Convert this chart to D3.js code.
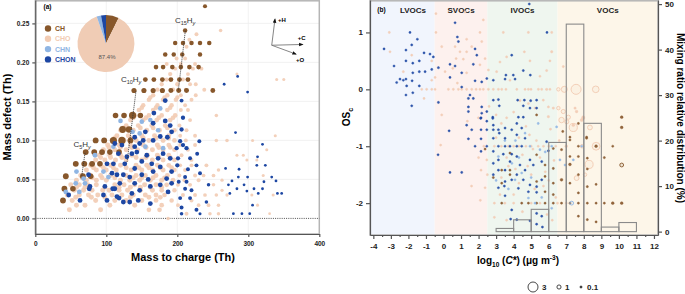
<!DOCTYPE html>
<html>
<head>
<meta charset="utf-8">
<script src="https://cdn.jsdelivr.net/npm/d3@7"></script>
<style>
  body { margin: 0; background: #fff; }
  text { font-family: "Liberation Sans", Arial, sans-serif; }
</style>
</head>
<body>
<div id="chart"></div>
<script>
// ---- Panel (a): mass defect vs mass to charge -------------------------------------------------
// [m/z, mass defect, abundance]
const chPoints = [
  [239,0.272,1.1],
  [197,0.225,1.3],[208,0.225,1.3],[220,0.225,1.3],[232,0.225,1.3],[245,0.225,1.3],[211,0.241,1.3],
  [183,0.210,1.3],[195,0.210,1.3],[207,0.210,1.3],[232,0.210,1.3],
  [170,0.194,1.4],[180,0.194,1.4],[193,0.194,1.4],[205,0.194,1.4],[217,0.194,1.4],[230,0.194,1.4],
  [155,0.178,1.5],[167,0.178,1.5],[179,0.178,1.5],[191,0.178,1.5],[203,0.178,1.5],[215,0.178,1.5],
  [139,0.164,1.7],[153,0.164,1.7],[166,0.164,1.7],[179,0.164,1.7],[191,0.164,1.6],[202,0.164,1.6],[213,0.164,1.6],[250,0.164,1.5],
  [113,0.132,2.0],[125,0.132,2.0],[137,0.132,3.3],[148,0.132,2.0],
  [123,0.114,3.0],[132,0.114,2.7],
  [85,0.100,2.2],[97,0.100,2.2],[110,0.100,3.2],[122,0.100,3.4],[134,0.100,2.2],
  [71,0.085,2.2],[83,0.085,2.2],[94,0.085,2.2],[105,0.085,2.0],[118,0.085,2.0],
  [57,0.070,2.2],[69,0.070,2.2],[80,0.070,2.2],[91,0.070,2.0],
  [43,0.054,2.2],[67,0.054,2.2],[78,0.054,2.0],
  [41,0.038,2.2],[53,0.038,2.0],
  [39,0.023,2.2]
];
const choPoints = [
  [187,0.000,0.8],
  [213,0.006,1.0],[246,0.006,0.8],[258,0.006,0.8],[330,0.006,0.5],
  [48,0.011,1.6],[92,0.011,1.6],[160,0.011,1.4],[175,0.011,1.4],
  [58,0.017,1.6],[70,0.017,1.6],[105,0.017,1.6],[140,0.017,1.6],[178,0.017,1.4],[201,0.017,1.0],[230,0.017,0.9],[244,0.017,0.9],[258,0.017,0.8],[313,0.017,0.6],
  [52,0.023,1.6],[85,0.023,1.6],[112,0.023,1.6],[128,0.023,1.6],[150,0.023,1.6],[170,0.023,1.5],[192,0.023,1.3],[220,0.023,1.0],
  [57,0.027,1.6],[79,0.027,1.6],[98,0.027,1.6],[116,0.027,1.6],[134,0.027,1.6],[160,0.027,1.6],[176,0.027,1.5],
  [45,0.030,1.6],[62,0.030,1.6],[75,0.030,1.6],[88,0.030,1.6],[108,0.030,1.6],[122,0.030,1.6],[138,0.030,1.6],[155,0.030,1.6],[170,0.030,1.5],[182,0.030,1.4],[208,0.030,1.0],[225,0.030,1.0],[239,0.030,0.9],[255,0.030,0.8],[270,0.030,0.7],[305,0.030,0.6],[335,0.030,0.6],
  [55,0.036,1.6],[68,0.036,1.6],[80,0.036,1.6],[95,0.036,1.6],[104,0.036,1.6],[118,0.036,1.6],[130,0.036,1.6],[148,0.036,1.6],[165,0.036,1.6],[178,0.036,1.5],[196,0.036,1.3],[263,0.036,0.7],
  [58,0.040,1.6],[70,0.040,1.6],[98,0.040,1.6],[118,0.040,1.6],[134,0.040,1.6],[148,0.040,1.6],[162,0.040,1.6],[178,0.040,1.5],
  [50,0.043,1.6],[62,0.043,1.6],[74,0.043,1.6],[86,0.043,1.6],[112,0.043,1.6],[125,0.043,1.6],[140,0.043,1.6],[154,0.043,1.6],[170,0.043,1.6],[185,0.043,1.5],[201,0.043,1.0],[218,0.043,1.0],[251,0.043,0.8],
  [58,0.049,1.6],[72,0.049,1.6],[86,0.049,1.6],[100,0.049,1.6],[120,0.049,1.6],[133,0.049,1.6],[147,0.049,1.6],[162,0.049,1.6],[178,0.049,1.6],[194,0.049,1.4],[210,0.049,1.0],[230,0.049,1.0],[263,0.049,0.7],
  [66,0.052,1.6],[80,0.052,1.6],[94,0.052,1.6],[112,0.052,1.6],[138,0.052,1.6],[150,0.052,1.6],[166,0.052,1.6],[182,0.052,1.5],
  [64,0.055,1.6],[78,0.055,1.6],[92,0.055,1.6],[106,0.055,1.6],[128,0.055,1.6],[142,0.055,1.6],[155,0.055,1.6],[170,0.055,1.6],[186,0.055,1.5],[203,0.055,1.0],[225,0.055,1.0],[237,0.055,0.9],[251,0.055,0.9],[321,0.055,0.6],
  [72,0.062,1.6],[86,0.062,1.6],[100,0.062,1.6],[114,0.062,1.6],[135,0.062,1.6],[150,0.062,1.6],[165,0.062,1.6],[180,0.062,1.6],[196,0.062,1.4],[211,0.062,1.0],[258,0.062,0.8],
  [82,0.065,1.6],[96,0.065,1.6],[110,0.065,1.6],[128,0.065,1.6],[146,0.065,1.6],[160,0.065,1.6],[176,0.065,1.6],[192,0.065,1.4],
  [78,0.068,1.6],[92,0.068,1.6],[106,0.068,1.6],[120,0.068,1.6],[142,0.068,1.6],[157,0.068,1.6],[172,0.068,1.6],[188,0.068,1.5],[204,0.068,1.0],[220,0.068,1.0],[241,0.068,1.0],
  [85,0.075,1.6],[98,0.075,1.6],[113,0.075,1.6],[128,0.075,1.6],[150,0.075,1.6],[165,0.075,1.6],[180,0.075,1.6],[196,0.075,1.4],[220,0.075,1.0],[298,0.075,0.6],[312,0.075,0.6],
  [92,0.078,1.6],[106,0.078,1.6],[122,0.078,1.6],[142,0.078,1.6],[156,0.078,1.6],[174,0.078,1.6],[190,0.078,1.4],
  [90,0.081,1.6],[105,0.081,1.6],[120,0.081,1.6],[136,0.081,1.6],[158,0.081,1.6],[172,0.081,1.6],[188,0.081,1.5],[206,0.081,1.0],[284,0.081,0.6],[293,0.081,0.6],
  [96,0.088,1.6],[112,0.088,1.6],[128,0.088,1.6],[144,0.088,1.6],[165,0.088,1.6],[180,0.088,1.6],[196,0.088,1.4],[215,0.088,1.0],[326,0.088,0.6],
  [104,0.091,1.6],[120,0.091,1.6],[136,0.091,1.6],[156,0.091,1.6],[174,0.091,1.6],[190,0.091,1.4],
  [102,0.094,1.6],[118,0.094,1.6],[134,0.094,1.6],[152,0.094,1.6],[172,0.094,1.6],[188,0.094,1.5],[204,0.094,1.0],[225,0.094,1.0],
  [108,0.100,1.6],[125,0.100,1.6],[142,0.100,1.6],[160,0.100,1.6],[180,0.100,1.6],[196,0.100,1.4],[212,0.100,1.0],[255,0.100,0.8],[270,0.100,0.8],[306,0.100,0.6],
  [112,0.103,1.6],[134,0.103,1.6],[152,0.103,1.6],[170,0.103,1.6],[188,0.103,1.5],
  [115,0.106,1.6],[131,0.106,1.6],[150,0.106,1.6],[168,0.106,1.6],[188,0.106,1.5],[204,0.106,1.0],[225,0.106,1.0],[338,0.106,0.6],
  [120,0.113,1.5],[138,0.113,1.5],[157,0.113,1.5],[175,0.113,1.5],[196,0.113,1.4],[213,0.113,1.0],
  [124,0.116,1.5],[148,0.116,1.5],[166,0.116,1.5],[186,0.116,1.5],
  [128,0.119,1.5],[145,0.119,1.5],[164,0.119,1.5],[183,0.119,1.5],[203,0.119,1.0],
  [134,0.126,1.5],[152,0.126,1.5],[171,0.126,1.5],[190,0.126,1.5],[218,0.126,1.0],
  [138,0.129,1.5],[156,0.129,1.5],[174,0.129,1.5],[194,0.129,1.4],
  [140,0.132,1.4],[160,0.132,1.4],[178,0.132,1.4],[197,0.132,1.4],[255,0.132,0.8],
  [146,0.139,1.4],[166,0.139,1.4],[186,0.139,1.4],[205,0.139,1.0],[215,0.139,1.0],
  [150,0.142,1.4],[170,0.142,1.4],[190,0.142,1.3],
  [152,0.145,1.3],[172,0.145,1.3],[192,0.145,1.3],[211,0.145,1.0],
  [160,0.152,1.3],[180,0.152,1.3],[198,0.152,1.3],[220,0.152,1.0],
  [162,0.155,1.3],[182,0.155,1.3],[200,0.155,1.2],
  [166,0.158,1.3],[186,0.158,1.3],[205,0.158,1.0],[226,0.158,1.0],
  [172,0.165,1.2],[194,0.165,1.2],[212,0.165,1.0],[238,0.165,1.0],
  [178,0.172,1.2],[200,0.172,1.2],[218,0.172,1.0],[226,0.172,1.0],
  [185,0.178,1.2],[208,0.178,1.0],[340,0.178,0.6],[350,0.178,0.6],
  [190,0.185,1.2],[215,0.185,1.0],[284,0.185,0.6],
  [197,0.192,1.0],[222,0.192,1.0],[234,0.192,1.0],
  [185,0.198,1.0],[205,0.198,1.0],[225,0.198,1.0],
  [199,0.205,1.0],[211,0.205,1.0],
  [213,0.220,1.0],[217,0.229,1.0],[227,0.236,1.0],[261,0.241,0.8]
];
const chnPoints = [
  [176,0.141,1.4],[162,0.126,1.4],[150,0.124,1.4],[147,0.109,1.4],[137,0.111,1.4],[173,0.113,1.4],
  [120,0.125,1.4],[110,0.092,1.4],[155,0.092,1.4],[180,0.090,1.4],
  [84,0.081,1.5],[96,0.060,1.5],[103,0.053,1.5],[58,0.060,1.5],[68,0.051,1.5],[57,0.045,1.5],[70,0.045,1.5],[43,0.034,1.5],[62,0.034,1.5]
];
const chonPoints = [
  [183,0.151,1.5],[167,0.135,1.5],[183,0.125,1.5],[190,0.119,1.5],[166,0.122,1.5],[155,0.111,1.5],[140,0.104,1.5],[152,0.100,1.5],
  [166,0.100,1.5],[176,0.105,1.5],[186,0.104,1.5],[192,0.111,1.5],[140,0.092,1.5],[143,0.085,1.5],[126,0.070,1.5],[115,0.056,1.5],
  [124,0.056,1.5],[119,0.045,1.5],[133,0.053,1.5],[140,0.045,1.5],[150,0.056,1.5],[147,0.036,1.5],[136,0.032,1.5],[162,0.041,1.5],
  [159,0.050,1.5],[166,0.060,1.5],[176,0.066,1.5],[164,0.070,1.5],[173,0.077,1.5],[180,0.083,1.5],[157,0.081,1.5],[150,0.073,1.5],
  [140,0.064,1.5],[162,0.019,1.5],[124,0.021,1.5],[115,0.028,1.5],[96,0.030,1.5],[101,0.023,1.5],[63,0.023,1.5],[47,0.030,1.5],
  [77,0.041,1.5],[98,0.041,1.5],[75,0.056,1.5],[112,0.038,1.5],[129,0.079,1.5],[117,0.083,1.5],[110,0.070,1.5],[101,0.070,1.5],
  [108,0.058,1.5],[190,0.077,1.5],[192,0.060,1.5],[185,0.051,1.5],[176,0.043,1.5],[192,0.045,1.5],[187,0.034,1.5],[112,0.096,1.5],
  [122,0.094,1.5],[136,0.083,1.5],[147,0.096,1.5],[76,0.038,1.5],[109,0.038,1.5],[118,0.026,1.5],[133,0.021,1.5],[145,0.023,1.5],
  [208,0.129,1.2],[206,0.114,1.2],[231,0.099,1.0],[204,0.099,1.2],[208,0.094,1.2],[213,0.090,1.2],[199,0.090,1.2],[228,0.083,1.0],
  [201,0.077,1.2],[218,0.077,1.0],[200,0.068,1.2],[215,0.063,1.0],[227,0.068,1.0],[232,0.058,1.0],[211,0.053,1.0],[202,0.047,1.0],
  [213,0.047,1.0],[244,0.043,0.8],[211,0.038,1.0],[220,0.036,1.0],[204,0.026,1.0],[218,0.026,1.0],[241,0.021,0.8],[206,0.014,1.0],
  [227,0.011,1.0],[206,0.151,1.0],[206,0.006,0.8],[232,0.006,0.6],
  [282,0.110,0.5],[320,0.095,0.5],[313,0.079,0.5],[268,0.064,0.5],[287,0.063,0.5],[312,0.068,0.5],[324,0.068,0.5],[286,0.053,0.5],
  [299,0.053,0.5],[277,0.048,0.5],[322,0.047,0.5],[333,0.053,0.5],[339,0.048,0.5],[272,0.043,0.5],[294,0.043,0.5],[284,0.038,0.5],
  [298,0.035,0.5],[308,0.038,0.5],[314,0.032,0.5],[320,0.038,0.5],[347,0.032,0.5],[341,0.032,0.5],[274,0.032,0.5],[306,0.017,0.5],
  [279,0.006,0.5],[291,0.006,0.5],[302,0.006,0.5],[266,0.172,0.5],[285,0.182,0.5],[299,0.162,0.5]
];
const groupNames = ["CH", "CHO", "CHN", "CHON"];
const pieShares = [7.3, 87.4, 2.5, 2.8];
const xTicksA = [0, 100, 200, 300, 400];
const yTicksA = [0, 0.05, 0.10, 0.15, 0.20, 0.25];
// C-number series guide lines: [subscript, [m/z, md] top, [m/z, md] bottom, label position]
const seriesGuides = [
  ["5", [70, 0.084], [65.4, 0.054], [66, 0.092]],
  ["10", [141.8, 0.163], [129.2, 0.072], [135, 0.175]],
  ["15", [211.3, 0.2405], [201.4, 0.1636], [211, 0.251]]
];

// ---- Panel (b): OSc vs log10 C* ----------------------------------------------------------------
// [log10 C*, OSc, mixing ratio]
const vocCH = [
  [2.37,-1.05,0.15],[3.32,-1.42,0.15],[2.84,-1.55,0.15],[3.32,-1.65,0.15],[3.79,-1.42,0.15],[3.79,-1.5,0.15],[3.32,-2.0,0.15],
  [3.79,-1.12,0.15],[5.31,-0.45,0.15],[4.84,-2.0,0.15],[5.79,-2.0,0.15],[5.31,-2.0,0.15],[6.26,-2.0,0.15],[4.46,-2.0,0.15],
  [7.69,-0.6,0.3],[8.16,-0.84,0.3],[10.16,-0.49,0.6],[9.65,-1.0,0.2],[7.21,-0.84,0.3],[6.8,-0.74,0.2],[10.16,-0.67,0.6],
  [9.17,-1.2,0.2],[10.16,-1.33,0.9],[8.7,-1.0,0.6],[8.7,-1.67,0.2],[9.17,-2.0,0.2],[9.65,-2.0,0.6],[10.16,-2.0,0.6],[8.7,-2.0,0.2],
  [8.7,-2.33,0.2],[8.2,-2.29,0.2],[8.2,-2.0,0.2],[8.2,-1.71,0.2],[8.2,-1.4,0.2],[8.2,-1.21,0.3],[8.16,-0.86,0.2],[7.69,-1.0,0.2],
  [7.69,-1.18,0.3],[7.69,-1.5,0.2],[7.69,-1.82,0.2],[7.69,-2.0,0.2],[7.69,-2.23,0.2],[7.21,-0.89,0.3],[7.21,-1.18,0.2],
  [7.21,-1.32,0.6],[7.21,-1.65,0.2],[7.21,-2.0,0.2],[6.73,-1.06,0.3],[6.73,-1.59,0.6],[6.73,-2.0,0.2],[6.26,-1.04,0.2],
  [6.26,-1.39,0.2],[6.26,-1.65,0.2],[6.26,-1.85,0.2],[5.79,-1.33,0.2],[5.79,-1.53,0.2],[5.79,-1.8,0.2],[5.31,-1.15,0.2],[5.31,-1.62,0.2]
];
const vocCHO = [
  [-3.09,1.0,0.1],[-3.05,0.66,0.1],[-2.29,0.31,0.1],[-1.81,0.6,0.1],[-0.67,0.5,0.1],[-0.48,0.21,0.1],[-0.67,0.16,0.1],[-1.24,0,0.1],
  [-0.96,0,0.1],[-0.67,0,0.1],[-0.48,0,0.1],[-1.11,-0.16,0.1],[-0.43,1.33,0.1],[-0.43,1.0,0.1],[-0.1,0.75,0.1],[1.32,0.88,0.1],
  [0.66,0.75,0.1],[1.32,0.66,0.1],[0.94,0.66,0.1],[0.72,0.54,0.1],[1.13,0.53,0.1],[2.27,1.22,0.1],[2.08,1.0,0.1],[2.18,0.84,0.1],
  [1.61,0.75,0.1],[2.37,0.54,0.1],[2.08,0.43,0.1],[1.32,0.29,0.1],[0.09,0.31,0.1],[0.53,0.37,0.1],[0.79,0.11,0.1],[1.32,0,0.1],
  [1.61,0,0.1],[1.86,0,0.1],[2.08,0,0.1],[2.27,0,0.1],[0.28,0,0.1],[0.56,0,0.1],[0.85,0,0.1],[1.04,0,0.1],[2.56,0,0.1],[2.84,0,0.1],
  [3.13,0,0.1],[3.32,0,0.1],[3.56,0,0.1],[3.41,1.0,0.1],[3.6,0.57,0.1],[3.22,0.48,0.1],[2.56,0.34,0.1],[3.03,0.31,0.1],[3.79,0.16,0.1],
  [1.23,1.36,0.1],[4.84,1.0,0.1],[6.17,1.0,0.1],[4.61,0.66,0.1],[6.17,0.66,0.5],[4.93,0.5,0.1],[6.07,0.5,0.4],[6.83,0.4,0.3],
  [5.88,0.33,0.1],[5.5,0.23,0.1],
  [4.18,0,0.1],[4.65,0,0.1],[4.84,0,0.1],[4.99,0,0.1],[5.41,0,0.1],[5.6,0,0.1],[5.88,0,0.5],[6.07,0,0.3],[6.55,0,0.8],[6.89,0,1.6],
  [7.56,0,3.0],[8.68,0,1.8],
  [6.55,-0.33,0.8],[6.83,-0.39,1.0],[7.59,-0.39,0.6],[7.12,-0.49,1.0],[7.97,-0.49,0.7],[4.36,-0.2,0.1],[4.84,-0.25,0.1],
  [5.22,-0.33,0.1],[5.98,-0.31,0.1],[5.69,-0.19,0.1],[6.73,-0.54,1.4],[7.4,-0.63,0.6],[7.97,-0.51,0.6],[7.5,-0.33,0.5],
  [5.98,-0.48,0.5],[6.26,-0.33,0.5],[7.4,-0.67,2.3],[8.35,-0.67,1.2],[8.7,-1.0,2.2],[8.3,-1.32,2.3],[7.59,-1.56,1.2],[8.07,-1.5,0.8],
  [7.03,-0.57,1.0],[7.88,-0.54,0.7],
  [2.3,-1,0.1],[2.9,-1,0.1],[3.3,-1,0.1],[3.7,-1,0.1],[4.0,-1,0.1],[4.3,-1,0.1],[4.7,-1,0.1],[5.0,-1,0.1],[5.4,-1,0.1],[5.7,-1,0.1],
  [6.0,-1,0.1],[6.4,-1,0.1],[7.0,-1,0.6],[7.9,-1,0.8],
  [2.9,-2,0.1],[3.5,-2,0.1],[4.0,-2,0.1],[5.0,-2,0.1],[5.5,-2,0.1],[6.5,-2,0.1],[7.0,-2,0.4],
  [-0.1,-0.45,0.1],[-0.16,-0.98,0.1],[1.36,-0.56,0.1],[1.99,-0.5,0.1],[2.47,-1.24,0.1],[2.14,-1.42,0.1],[2.37,-1.73,0.1],
  [3.22,-1.85,0.1],[2.6,-0.3,0.1],[3.0,-0.45,0.1],[3.3,-0.6,0.1],[3.6,-0.5,0.1],[3.0,-0.85,0.1],[3.6,-1.2,0.1],[3.3,-1.55,0.1],
  [3.7,-1.35,0.1],[4.0,-0.4,0.1],[4.3,-0.85,0.1],[4.5,-1.15,0.1],[4.1,-1.4,0.1],[4.3,-1.65,0.1],[4.0,-1.85,0.1],[4.7,-0.65,0.1],
  [4.9,-0.8,0.1],[5.1,-1.05,0.1],[4.8,-1.35,0.1],[5.0,-1.5,0.1],[5.3,-0.9,0.1],[5.5,-1.2,0.1],[5.8,-1.45,0.1],[5.2,-1.75,0.1],
  [5.7,-1.7,0.1],[6.1,-0.7,0.1],[6.3,-1.25,0.1],[6.0,-1.6,0.1],[6.4,-1.9,0.1],[5.9,-2.2,0.1],[4.5,-2.15,0.1],[3.6,-2.3,0.1],
  [6.6,-0.9,0.1],[6.2,-2.3,0.1],[2.0,-1.2,0.1],[1.6,-1.7,0.1],[2.5,-1.5,0.1],[2.9,-2.25,0.1],[2.1,-1.95,0.1]
];
const vocCHN = [
  [3.13,-1.18,0.12],[4.08,-1.59,0.12],[4.65,-0.77,0.12],[4.93,-1.0,0.4],[5.5,-1.06,0.12],[6.45,-0.66,0.12],[4.46,-1.47,0.12],
  [4.84,-1.91,0.12],[6.17,-2.09,0.12],[7.88,-1.0,0.4],[7.4,-1.24,0.3],[6.17,-1.0,0.12],[6.64,-1.24,0.12],[6.93,-1.33,0.3],
  [5.22,-2.0,0.12],[7.31,-2.0,0.9],[3.5,-0.9,0.12],[3.9,-1.3,0.12],[4.3,-1.2,0.12],[5.0,-1.55,0.12],[5.6,-1.9,0.12],
  [3.0,-1.6,0.12],[3.7,-1.75,0.12],[5.4,-0.6,0.12],[4.1,-0.9,0.12],[5.8,-1.1,0.12]
];
const vocCHON = [
  [-1.91,1.0,0.12],[-3.39,0.71,0.12],[-2.14,0.69,0.12],[-1.81,0.78,0.12],[-1.49,0.88,0.12],[-1.11,0.64,0.12],[-0.77,0.62,0.12],
  [-0.58,0.57,0.12],[-1.38,0.5,0.12],[-1.75,0.46,0.12],[-2.14,0.5,0.12],[-2.82,0.41,0.12],[-1.05,0.31,0.12],[-0.67,0.35,0.12],
  [-1.38,0.31,0.12],[-0.29,0.38,0.12],[-1.75,0.29,0.12],[-2.48,0.18,0.12],[-2.29,0.16,0.12],[-2.14,0.18,0.12],[-1.79,0.15,0.12],
  [-2.67,0.12,0.12],[-1.38,0.06,0.12],[-2.1,0.06,0.12],[-1.75,-0.06,0.12],[-2.14,-0.1,0.12],[-1.81,-0.29,0.12],[-0.29,-0.23,0.12],
  [0.66,1.17,0.12],[0.79,0.92,0.12],[0.85,0.84,0.12],[1.8,0.71,0.12],[1.9,0.6,0.12],[0.37,0.44,0.12],[0.66,0.41,0.12],[1.7,0.44,0.12],
  [0.37,0.21,0.12],[1.04,0.29,0.12],[1.8,0.15,0.12],[2.18,0.13,0.12],[2.47,0.19,0.12],[1.04,0.04,0.12],[1.51,-0.1,0.12],
  [1.42,-0.16,0.12],[1.7,-0.16,0.12],[1.42,-0.31,0.12],[1.42,-0.39,0.12],[2.18,-0.31,0.12],[2.18,-0.42,0.12],[2.47,-0.39,0.12],
  [2.84,-0.19,0.12],[3.13,-0.18,0.12],[3.18,-0.29,0.12],[3.56,0.25,0.12],[3.51,0.18,0.12],[2.84,0.16,0.12],[2.12,-0.51,0.12],
  [2.81,-0.49,0.12],[4.89,1.5,0.12],[5.9,1.0,0.12],[3.89,0.6,0.12],[4.55,0.33,0.12],[3.98,0.25,0.12],[4.08,0.18,0.12],[4.95,0.25,0.12],
  [0.32,-0.73,0.12],[1.42,-0.87,0.12],[2.14,-0.87,0.12],[2.14,-0.71,0.12],[2.47,-0.71,0.12],[1.61,-0.71,0.12],[1.32,-0.63,0.12],
  [1.8,-1.0,0.12],[2.14,-1.09,0.12],[2.47,-1.0,0.12],[-0.31,-1.15,0.12],[0.37,-1.46,0.12],[1.04,-1.46,0.12],[2.14,-0.5,0.12],
  [2.47,-0.56,0.12],[2.81,-0.51,0.12],[2.84,-0.63,0.12],[2.84,-0.71,0.12],[3.13,-0.71,0.12],[3.51,-0.68,0.12],[3.89,-0.71,0.12],
  [3.18,-0.77,0.12],[3.51,-0.86,0.12],[2.84,-0.86,0.12],[3.13,-1.0,0.12],[3.79,-1.0,0.12],[3.51,-1.0,0.12],[3.41,-1.14,0.12],
  [2.84,-1.09,0.12],[3.13,-1.24,0.12],[2.84,-1.3,0.12],[3.13,-1.42,0.12],[3.51,-1.42,0.12],[2.84,-1.5,0.12],[3.51,-1.62,0.12],
  [3.13,-1.73,0.12],[3.47,-1.7,0.12],[3.89,-1.59,0.12],[3.51,-1.87,0.12],[3.89,-2.12,0.12],[3.79,-1.27,0.12],[3.89,-1.14,0.12],
  [4.18,-0.6,0.12],[4.46,-0.68,0.12],[4.18,-0.8,0.12],[4.65,-0.86,0.12],[4.18,-1.0,0.12],[4.46,-1.0,0.12],[4.18,-1.18,0.12],
  [4.36,-1.33,0.12],[4.93,-1.24,0.12],[5.12,-1.33,0.12],[4.65,-1.42,0.12],[4.18,-1.5,0.12],[4.55,-1.59,0.12],[4.93,-1.68,0.12],
  [4.27,-1.74,0.12],[4.84,-1.8,0.12],[5.31,-1.71,0.12],[5.31,-1.81,0.12],[5.6,-1.59,0.12],[5.88,-0.92,0.12],[5.98,-1.08,0.12],
  [5.6,-1.27,0.12],[5.31,-2.18,0.12],[5.6,-2.23,0.12],[3.83,-2.28,0.12],[4.18,-2.29,0.12],[4.93,-2.31,0.3],[5.31,-2.37,0.12],
  [5.64,-2.42,0.12],[4.23,-0.19,0.12],[4.61,-0.19,0.12],[4.97,-0.2,0.12],[5.31,-0.19,0.12],[5.31,-0.33,0.12],[4.93,-0.33,0.12],
  [4.55,-0.29,0.12],[4.27,-0.49,0.12],[4.55,-0.49,0.12]
];
const volatilityClasses = ["LVOCs", "SVOCs", "IVOCs", "VOCs"];
const classEdges = [-4.19, -0.5, 2.5, 6.5, 12.23];
const binStarts = [-4, -3, -2, -1, 0, 1, 2, 3, 4, 5, 6, 7, 8, 9, 10];
const binShares = [0, 0, 0, 0, 0, 0, 0, 0.7, 2.6, 4.9, 19.6, 45.6, 23.8, 1.0, 2.0];
const legendSizes = [3, 1, 0.1];

// ---- Canvas ------------------------------------------------------------------------------------
const width = 685;
const height = 294;
const colors = { CH: "#87572b", CHO: "#f2cbb2", CHN: "#8fb5e3", CHON: "#1d47a3" };
const bandColors = ["#f1f5fd", "#fdf1ee", "#eff6ef", "#fdf6e9"];

const svg = d3.select("#chart")
  .append("svg")
  .attr("width", width)
  .attr("height", height);

// ---- Panel (a) ---------------------------------------------------------------------------------
const xA = d3.scaleLinear().domain([0, 400]).range([35.3, 319.3]);
const yA = d3.scaleLinear().domain([-0.02, 0.28]).range([234, 0]);
const rA = d3.scaleSqrt().domain([0, 5]).range([0, 4.4]);

const panelA = svg.append("g");

panelA.selectAll("line.gridx")
  .data(xTicksA.slice(1, 4))
  .join("line")
  .attr("x1", d => xA(d)).attr("x2", d => xA(d))
  .attr("y1", 0).attr("y2", 234)
  .style("stroke", "#efefef").style("stroke-width", 0.8);
panelA.selectAll("line.gridy")
  .data(yTicksA.slice(1))
  .join("line")
  .attr("x1", xA(0)).attr("x2", xA(400))
  .attr("y1", d => yA(d)).attr("y2", d => yA(d))
  .style("stroke", "#efefef").style("stroke-width", 0.8);

panelA.append("rect")
  .attr("x", xA(0)).attr("y", 0.8)
  .attr("width", xA(400) - xA(0)).attr("height", 233.2)
  .style("fill", "none").style("stroke", "#b5b5b5").style("stroke-width", 1.5);

panelA.append("line")
  .attr("x1", xA(0)).attr("x2", xA(400))
  .attr("y1", yA(0)).attr("y2", yA(0))
  .style("stroke", "#222").style("stroke-width", 0.8).style("stroke-dasharray", "1,1.2");

const pointGroupsA = [["CHO", choPoints], ["CH", chPoints], ["CHN", chnPoints], ["CHON", chonPoints]];
pointGroupsA.forEach(function([name, pts]) {
  panelA.append("g")
    .selectAll("circle")
    .data(pts)
    .join("circle")
    .attr("cx", d => xA(d[0]))
    .attr("cy", d => yA(d[1]))
    .attr("r", d => rA(d[2]))
    .style("fill", colors[name])
    .style("fill-opacity", name == "CHO" ? 0.9 : 1);
});

// series guide lines
seriesGuides.forEach(function([n, top, bottom, lab]) {
  panelA.append("line")
    .attr("x1", xA(top[0])).attr("y1", yA(top[1]))
    .attr("x2", xA(bottom[0])).attr("y2", yA(bottom[1]))
    .style("stroke", "#333").style("stroke-width", 0.8).style("stroke-dasharray", "1.2,0.8");
  const t = panelA.append("text")
    .attr("x", xA(lab[0])).attr("y", yA(lab[1]))
    .style("text-anchor", "middle")
    .style("font-size", "8px")
    .style("fill", "#333");
  t.append("tspan").text("C");
  t.append("tspan").text(n).attr("dy", 2).style("font-size", "5.5px");
  t.append("tspan").text("H").attr("dy", -2);
  t.append("tspan").text("y").attr("dy", 2).style("font-size", "5.5px").style("font-style", "italic");
});

// axes
const yAxisA = panelA.append("g")
  .attr("transform", "translate(" + xA(0) + ",0)")
  .call(d3.axisLeft(yA).tickValues(yTicksA).tickFormat(d3.format(".2f")).tickSize(3).tickSizeOuter(0));
const xAxisA = panelA.append("g")
  .attr("transform", "translate(0,234)")
  .call(d3.axisBottom(xA).tickValues(xTicksA).tickSize(3).tickSizeOuter(0));
[yAxisA, xAxisA].forEach(function(ax) {
  ax.selectAll("text").style("font-size", "6.5px").style("font-weight", "bold").style("fill", "#222")
    .style("font-family", "'Liberation Sans', Arial, sans-serif");
  ax.selectAll("path, line").style("stroke", "#555").style("stroke-width", 1.2);
});
xAxisA.selectAll("text").attr("dy", "0.9em");

panelA.append("text")
  .text("Mass to charge (Th)")
  .attr("x", 183).attr("y", 261)
  .style("text-anchor", "middle").style("font-size", "11px").style("font-weight", "bold");
panelA.append("text")
  .text("Mass defect (Th)")
  .attr("transform", "translate(11,117) rotate(-90)")
  .style("text-anchor", "middle").style("font-size", "11px").style("font-weight", "bold");
panelA.append("text")
  .text("(a)")
  .attr("x", 47.5).attr("y", 9)
  .style("text-anchor", "middle").style("font-size", "6.5px").style("font-weight", "bold");

// pie inset
const pie = d3.pie().sort(null)(pieShares);
const arc = d3.arc().innerRadius(0).outerRadius(28.5);
const pieGroup = panelA.append("g").attr("transform", "translate(106,43.5)");
pieGroup.selectAll("path")
  .data(pie)
  .join("path")
  .attr("d", arc)
  .style("fill", (d, i) => i == 1 ? "#f0ccb5" : colors[groupNames[i]]);
pieGroup.append("text")
  .text(pieShares[1] + "%")
  .attr("x", 1).attr("y", 15)
  .style("text-anchor", "middle").style("font-size", "6px").style("fill", "#555");

// pie legend
const pieLegend = panelA.append("g").attr("transform", "translate(48,28.5)");
groupNames.forEach(function(name, i) {
  pieLegend.append("circle")
    .attr("cx", 0).attr("cy", i * 10.3).attr("r", 3.2)
    .style("fill", colors[name]);
  pieLegend.append("text")
    .text(name)
    .attr("x", 7).attr("y", i * 10.3 + 2.6)
    .style("font-size", "7px").style("font-weight", "bold").style("fill", colors[name]);
});

// element direction arrows
svg.append("defs").append("marker")
  .attr("id", "arrowhead")
  .attr("viewBox", "0 0 10 10")
  .attr("refX", 8).attr("refY", 5)
  .attr("markerWidth", 5).attr("markerHeight", 5)
  .attr("orient", "auto")
  .append("path").attr("d", "M0,1 L10,5 L0,9 z").style("fill", "#111");
const arrowOrigin = [333, 0.222];
const arrowEnds = [["+H", [337.6, 0.2555], [7, 3]], ["+C", [376.6, 0.223], [-1, -4]], ["+O", [367.2, 0.2106], [4, 8]]];
arrowEnds.forEach(function([label, end, off]) {
  panelA.append("line")
    .attr("x1", xA(arrowOrigin[0])).attr("y1", yA(arrowOrigin[1]))
    .attr("x2", xA(end[0])).attr("y2", yA(end[1]))
    .attr("marker-end", "url(#arrowhead)")
    .style("stroke", "#777").style("stroke-width", 0.9);
  panelA.append("text")
    .text(label)
    .attr("x", xA(end[0]) + off[0]).attr("y", yA(end[1]) + off[1])
    .style("text-anchor", "middle").style("font-size", "6px").style("font-weight", "bold");
});

// ---- Panel (b) ---------------------------------------------------------------------------------
const xB = d3.scaleLinear().domain([-4.19, 12.23]).range([370, 658]);
const yB = d3.scaleLinear().domain([-2.56, 1.57]).range([235, 0]);
const yP = d3.scaleLinear().domain([-0.74, 50.9]).range([235, 0]);
const rB = d3.scalePow().exponent(0.8).domain([0, 3]).range([0, 5]);
const radiusB = v => Math.max(1.1, rB(v));

const panelB = svg.append("g");

panelB.selectAll("rect.band")
  .data(volatilityClasses)
  .join("rect")
  .attr("x", (d, i) => xB(classEdges[i]))
  .attr("y", 0)
  .attr("width", (d, i) => xB(classEdges[i + 1]) - xB(classEdges[i]))
  .attr("height", 235)
  .style("fill", (d, i) => bandColors[i]);

panelB.selectAll("text.band")
  .data(volatilityClasses)
  .join("text")
  .text(d => d)
  .attr("x", (d, i) => i == 0 ? 413 : (xB(classEdges[i]) + xB(classEdges[i + 1])) / 2)
  .attr("y", 13)
  .style("text-anchor", "middle").style("font-size", "8px").style("font-weight", "bold").style("fill", "#222");

const pointGroupsB = [["CHO", vocCHO], ["CH", vocCH], ["CHN", vocCHN], ["CHON", vocCHON]];
pointGroupsB.forEach(function([name, pts]) {
  panelB.append("g")
    .selectAll("circle")
    .data(pts)
    .join("circle")
    .attr("cx", d => xB(d[0]))
    .attr("cy", d => yB(d[1]))
    .attr("r", d => radiusB(d[2]))
    .style("fill", colors[name])
    .style("fill-opacity", d => radiusB(d[2]) > 1.6 ? 0.12 : 0.9)
    .style("stroke", colors[name])
    .style("stroke-opacity", 1)
    .style("stroke-width", d => radiusB(d[2]) > 1.6 ? 0.9 : 0.4);
});

// histogram of mixing-ratio distribution
panelB.append("g")
  .selectAll("rect")
  .data(binStarts)
  .join("rect")
  .attr("x", d => xB(d))
  .attr("y", (d, i) => yP(binShares[i]))
  .attr("width", d => xB(d + 1) - xB(d))
  .attr("height", (d, i) => yP(0) - yP(binShares[i]))
  .style("fill", "none")
  .style("stroke", "#8a8a8a")
  .style("stroke-width", 1.1);

panelB.append("rect")
  .attr("x", 370).attr("y", 0.8)
  .attr("width", 288).attr("height", 234.2)
  .style("fill", "none").style("stroke", "#b5b5b5").style("stroke-width", 1.5);

const plainNumber = d => String(d);
const yAxisB = panelB.append("g")
  .attr("transform", "translate(370,0)")
  .call(d3.axisLeft(yB).tickValues([-2, -1, 0, 1]).tickFormat(plainNumber).tickSize(4).tickSizeOuter(0));
const yAxisP = panelB.append("g")
  .attr("transform", "translate(658,0)")
  .call(d3.axisRight(yP).tickValues([0, 10, 20, 30, 40, 50]).tickFormat(plainNumber).tickSize(4).tickSizeOuter(0));
const xAxisB = panelB.append("g")
  .attr("transform", "translate(0,235)")
  .call(d3.axisBottom(xB).tickValues(d3.range(-4, 13)).tickFormat(plainNumber).tickSize(4).tickSizeOuter(0));
panelB.append("g")
  .attr("transform", "translate(0,235)")
  .call(d3.axisBottom(xB).tickValues(d3.range(-3.5, 12.5, 1)).tickSize(2).tickFormat("").tickSizeOuter(0))
  .selectAll("path").remove();
panelB.selectAll(".tick line").style("stroke", "#555").style("stroke-width", 1.2);
[yAxisB, yAxisP, xAxisB].forEach(function(ax) {
  ax.selectAll("text").style("font-size", "8px").style("font-weight", "bold").style("fill", "#222")
    .style("font-family", "'Liberation Sans', Arial, sans-serif");
  ax.selectAll("path").style("stroke", "#555").style("stroke-width", 1.2);
});
xAxisB.selectAll("text").attr("dy", "0.85em");

panelB.append("text")
  .text("(b)")
  .attr("x", 381.5).attr("y", 12)
  .style("text-anchor", "middle").style("font-size", "6.5px").style("font-weight", "bold");

const osLabel = panelB.append("text")
  .attr("transform", "translate(350,117) rotate(-90)")
  .style("text-anchor", "middle").style("font-size", "10px").style("font-weight", "bold");
osLabel.append("tspan").text("OS");
osLabel.append("tspan").text("c").attr("dy", 2.5).style("font-size", "7px");

panelB.append("text")
  .text("Mixing ratio relative distribution (%)")
  .attr("transform", "translate(677,118) rotate(90)")
  .style("text-anchor", "middle").style("font-size", "10px").style("font-weight", "bold");

const xTitleB = panelB.append("text")
  .attr("x", 518).attr("y", 264)
  .style("text-anchor", "middle").style("font-size", "10px").style("font-weight", "bold");
xTitleB.append("tspan").text("log");
xTitleB.append("tspan").text("10").attr("dy", 2.5).style("font-size", "6.5px");
xTitleB.append("tspan").text(" (").attr("dy", -2.5);
xTitleB.append("tspan").text("C*").style("font-style", "italic");
xTitleB.append("tspan").text(")  (μg m");
xTitleB.append("tspan").text("-3").attr("dy", -4).style("font-size", "6.5px");
xTitleB.append("tspan").text(")").attr("dy", 4);

// size legend
const sizeLegend = panelB.append("g").attr("transform", "translate(0,287)");
const legendX = [533, 559, 581];
legendSizes.forEach(function(v, i) {
  sizeLegend.append("circle")
    .attr("cx", legendX[i]).attr("cy", 0)
    .attr("r", v < 0.5 ? 1 : rB(v))
    .style("fill", v < 0.5 ? "#333" : "none")
    .style("stroke", "#333").style("stroke-width", 0.9);
  sizeLegend.append("text")
    .text(v)
    .attr("x", legendX[i] + (i == 0 ? 9 : 6)).attr("y", 3)
    .style("font-size", "8px").style("font-weight", "bold").style("fill", "#222");
});
</script>
</body>
</html>
